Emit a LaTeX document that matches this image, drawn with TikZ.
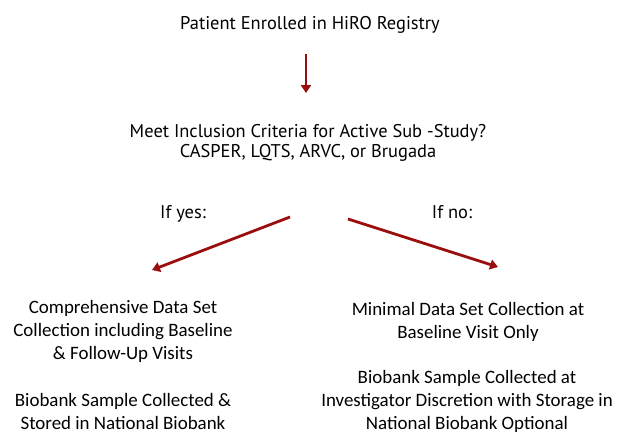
\documentclass[tikz,border=0pt]{standalone}
\usepackage{fontspec}
\setmainfont{Carlito}
\newfontfamily\headfont{PT Sans}
\usetikzlibrary{arrows.meta}
\definecolor{flowred}{RGB}{155,14,14}

\tikzset{
  headtext/.style={font=\headfont\fontsize{18.5}{21}\selectfont, anchor=base, align=center},
  bodytext/.style={font=\fontsize{19}{23}\selectfont, anchor=base, align=center},
  flowarrow/.style={-{Triangle[length=8pt, width=10pt]}, line width=2.8pt, flowred}
}

\begin{document}
\begin{tikzpicture}[x=1bp, y=-1bp]
    \useasboundingbox (0,0) rectangle (617,435);

    % Top of the flow (multi-line nodes sit on their last baseline)
    \node[headtext] (enrol) at (310,30) {Patient Enrolled in HiRO Registry};
    \node[headtext] (criteria) at (308,158) {Meet Inclusion Criteria for Active Sub -Study?\\CASPER, LQTS, ARVC, or Brugada};

    % Branch labels
    \node[headtext] (yes) at (183,219) {If yes:};
    \node[headtext] (no) at (452,219) {If no:};

    % Outcomes
    \node[bodytext] (fullset) at (123,359) {Comprehensive Data Set\\Collection including Baseline\\\& Follow-Up Visits};
    \node[bodytext] (fullbank) at (123,429) {Biobank Sample Collected \&\\Stored in National Biobank};
    \node[bodytext] (minset) at (468,338) {Minimal Data Set Collection at\\Baseline Visit Only};
    \node[bodytext] (minbank) at (467,429) {Biobank Sample Collected at\\Investigator Discretion with Storage in\\National Biobank Optional};

    % Arrow ends
    \coordinate (downtop) at (306,54);
    \coordinate (downtip) at (306,93);
    \coordinate (lefttail) at (290,217);
    \coordinate (lefttip) at (152,270);
    \coordinate (righttail) at (348,219);
    \coordinate (righttip) at (498,267);

    \draw[flowarrow] (downtop) -- (downtip);
    \draw[flowarrow] (lefttail) -- (lefttip);
    \draw[flowarrow] (righttail) -- (righttip);
\end{tikzpicture}
\end{document}
